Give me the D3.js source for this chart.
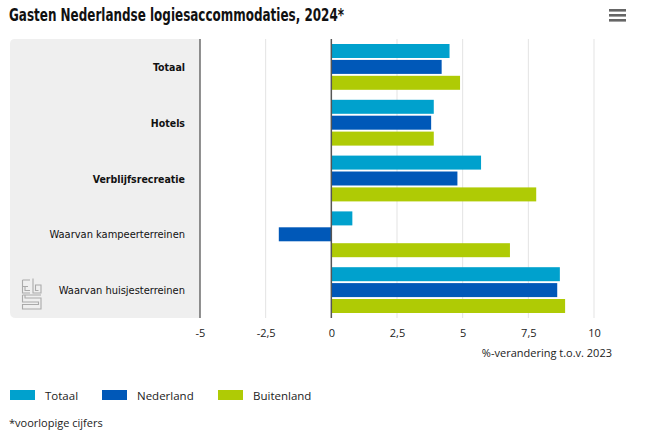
<!DOCTYPE html>
<html>
<head>
<meta charset="utf-8">
<script src="https://cdn.jsdelivr.net/npm/d3@7"></script>
<style>
  body { margin: 0; background: #fff; }
  svg { display: block; font-family: "Open Sans", "Liberation Sans", sans-serif; }
</style>
</head>
<body>
<svg id="chart" width="645" height="443"></svg>
<script>
// data
var categories = ["Totaal", "Hotels", "Verblijfsrecreatie", "Waarvan kampeerterreinen", "Waarvan huisjesterreinen"]
var boldCats = ["Totaal", "Hotels", "Verblijfsrecreatie"]
var seriesNames = ["Totaal", "Nederland", "Buitenland"]
var totaal = [4.5, 3.9, 5.7, 0.8, 8.7]
var nederland = [4.2, 3.8, 4.8, -2.0, 8.6]
var buitenland = [4.9, 3.9, 7.8, 6.8, 8.9]
var ticks = [-5, -2.5, 0, 2.5, 5, 7.5, 10]
var colors = ["#00a1cd", "#0058b8", "#afcb05"]

var svg = d3.select("#chart")
var plotTop = 39, plotBottom = 318
var condensed = "'DejaVu Sans Condensed', 'Roboto', sans-serif"

var x = d3.scaleLinear().domain([-5, 10]).range([200, 594])
var y = d3.scaleBand().domain(categories).range([plotTop, plotBottom])
var ySub = d3.scaleBand().domain(seriesNames).range([5, y.bandwidth() - 5]).paddingInner(0.12)

// title
svg.append("text").attr("x", 9).attr("y", 21)
  .style("font-family", condensed)
  .style("font-weight", "bold").style("font-size", "18px").attr("fill", "#111")
  .attr("textLength", 335).attr("lengthAdjust", "spacingAndGlyphs")
  .text("Gasten Nederlandse logiesaccommodaties, 2024*")

// menu icon
svg.selectAll(".menu").data([0, 1, 2]).enter().append("rect")
  .attr("x", 609).attr("y", d => 9 + d * 5).attr("width", 17).attr("height", 2.6)
  .attr("fill", "#666")

// gray label panel
svg.append("path")
  .attr("d", "M200," + plotTop + " L15," + plotTop + " Q10," + plotTop + " 10," + (plotTop + 5) +
    " L10," + (plotBottom - 6) + " Q10," + plotBottom + " 16," + plotBottom + " L200," + plotBottom + " Z")
  .attr("fill", "#efefef")

// gridlines
svg.append("g").selectAll("line").data(ticks.filter(t => t != 0 && t != -5)).enter().append("line")
  .attr("x1", d => x(d)).attr("x2", d => x(d)).attr("y1", plotTop).attr("y2", plotBottom)
  .attr("stroke", "#e3e3e3").attr("stroke-width", 1)

// bars
var rows = categories.map((c, i) => ({cat: c, vals: [totaal[i], nederland[i], buitenland[i]]}))
var g = svg.append("g").selectAll("g").data(rows).enter().append("g")
  .attr("transform", d => "translate(0," + y(d.cat) + ")")
g.selectAll("rect").data(d => d.vals.map((v, j) => ({v: v, s: seriesNames[j], j: j}))).enter().append("rect")
  .attr("x", d => x(Math.min(0, d.v)))
  .attr("width", d => Math.abs(x(d.v) - x(0)))
  .attr("y", d => ySub(d.s))
  .attr("height", ySub.bandwidth())
  .attr("fill", d => colors[d.j])

// axis lines at -5 and 0
svg.append("line").attr("x1", x(-5)).attr("x2", x(-5)).attr("y1", plotTop).attr("y2", plotBottom)
  .attr("stroke", "#555").attr("stroke-width", 1.3)
svg.append("line").attr("x1", x(0)).attr("x2", x(0)).attr("y1", plotTop).attr("y2", plotBottom)
  .attr("stroke", "#555").attr("stroke-width", 1.5)

// category labels
svg.append("g").selectAll("text").data(categories).enter().append("text")
  .attr("x", 185).attr("y", d => y(d) + y.bandwidth() / 2 + 4)
  .attr("text-anchor", "end")
  .style("font-size", d => boldCats.includes(d) ? "10.5px" : "11px")
  .style("font-weight", d => boldCats.includes(d) ? "bold" : "normal")
  .style("font-family", condensed)
  .attr("fill", "#111").text(d => d)

// x axis
var axisX = d3.axisBottom(x).tickValues(ticks).tickSize(0).tickPadding(0)
  .tickFormat(d => String(d).replace(".", ","))
var ax = svg.append("g").attr("transform", "translate(0,329)").call(axisX)
ax.select(".domain").remove()
ax.selectAll("text").style("font-size", "11px").attr("fill", "#222")
  .style("font-family", "'Open Sans', sans-serif")

svg.append("text").attr("x", 612).attr("y", 357).attr("text-anchor", "end")
  .style("font-size", "11px").attr("fill", "#222").text("%-verandering t.o.v. 2023")

// logo
var logo = svg.append("g").attr("transform", "translate(22,278)")
  .attr("fill", "none").attr("stroke", "#aaa").attr("stroke-width", 1.1)
logo.append("path").attr("d", "M0.5,2 H8 M0.5,2 V15 H8 M0.5,8.5 H6 M3,8.5 V12.5 H8")
logo.append("path").attr("d", "M11,0.5 V15 H19 V7 H13.5 V12.5 H16.5")
logo.append("path").attr("d", "M0.5,17 H19 M0.5,17 V24 H16.5 V26.5 H0.5 V31 H19 V20 H3 V17")

// legend
var leg = svg.append("g").selectAll("g").data(seriesNames).enter().append("g")
  .attr("transform", (d, i) => "translate(" + [10, 102, 218][i] + ",390)")
leg.append("rect").attr("width", 25).attr("height", 10).attr("fill", (d, i) => colors[i])
leg.append("text").attr("x", 35).attr("y", 9.5).style("font-size", "11.5px")
  .attr("fill", "#222").text(d => d)

svg.append("text").attr("x", 9).attr("y", 427).style("font-size", "11px")
  .attr("fill", "#222").text("*voorlopige cijfers")
</script>
</body>
</html>
